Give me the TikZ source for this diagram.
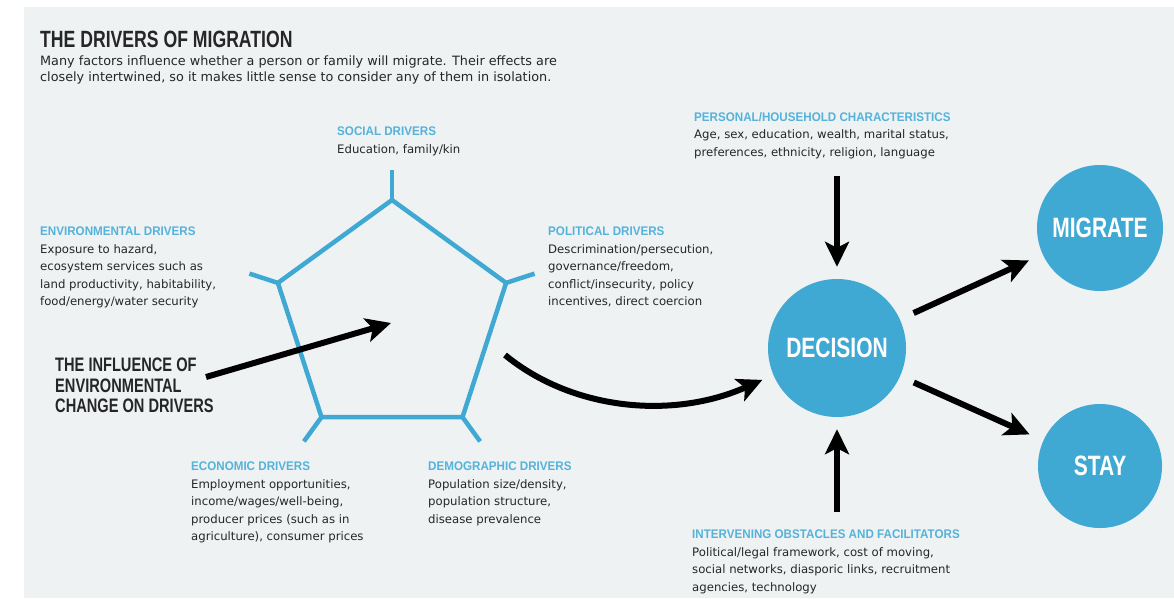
\documentclass[tikz,border=0pt]{standalone}
\usepackage{fontspec}
\setmainfont{DejaVu Sans}
\newfontfamily\condfont{Liberation Sans}[FakeStretch=0.75]
\newfontfamily\headfont{Liberation Sans}[FakeStretch=0.93]
\usetikzlibrary{arrows.meta}
\definecolor{panel}{HTML}{EEF2F3}
\definecolor{mblue}{HTML}{3FA9D3}
\definecolor{hblue}{HTML}{55B2DA}
\definecolor{bodyc}{HTML}{262626}
\newcommand{\hd}[1]{{\headfont\bfseries\fontsize{12.5}{17.5}\selectfont\color{hblue}#1}}
\begin{document}
\begin{tikzpicture}[x=1pt,y=-1pt,
  txt/.style={anchor=north west, inner sep=0pt, align=left, text=bodyc,
    font=\fontsize{11.7}{17.5}\selectfont},
  bigcap/.style={anchor=north west, inner sep=0pt, align=left, text=bodyc,
    font=\condfont\bfseries\fontsize{19.5}{20.3}\selectfont},
  bubble/.style={circle, fill=mblue, draw=none, text=white, inner sep=0pt,
    font=\condfont\bfseries\fontsize{28}{28}\selectfont},
  pent/.style={draw=mblue, line width=4.5pt, line join=miter},
  arr/.style={draw=black, line width=6pt,
    -{Stealth[length=25pt,width=24pt,inset=6pt]}}
]
\useasboundingbox (0,0) rectangle (1174,598);
\fill[white] (0,0) rectangle (1174,598);
\fill[panel] (24,7) rectangle (1174,598);

% title
\node[anchor=north west, inner sep=0pt, text=bodyc,
  font=\condfont\bfseries\fontsize{23.5}{24}\selectfont] (title) at (40,31) {THE DRIVERS OF MIGRATION};
\node[anchor=north west, inner sep=0pt, align=left, text=bodyc,
  font=\fontsize{12.8}{16}\selectfont] (sub) at (40,56)
  {Many factors influence whether a person or family will migrate. Their effects are\\
   closely intertwined, so it makes little sense to consider any of them in isolation.};

% pentagon
\coordinate (pt) at (392,200);
\coordinate (pul) at (277.9,282.9);
\coordinate (pur) at (506.1,282.9);
\coordinate (pbl) at (321.5,417.1);
\coordinate (pbr) at (462.5,417.1);
\coordinate (pc) at (391,323);
\draw[pent] (pt) -- (pur) -- (pbr) -- (pbl) -- (pul) -- cycle;
\draw[pent] (pt) -- (392,170);
\draw[pent] (pul) -- (249.4,273.6);
\draw[pent] (pur) -- (534.6,273.6);
\draw[pent] (pbl) -- (303.9,441.4);
\draw[pent] (pbr) -- (480.1,441.4);

% driver texts
\node[txt] (social) at (337,127) {\hd{SOCIAL DRIVERS}\\Education, family/kin};
\node[txt] (env) at (40,227) {\hd{ENVIRONMENTAL DRIVERS}\\Exposure to hazard,\\ecosystem services such as\\land productivity, habitability,\\food/energy/water security};
\node[txt] (pol) at (548,227) {\hd{POLITICAL DRIVERS}\\Descrimination/persecution,\\governance/freedom,\\conflict/insecurity, policy\\incentives, direct coercion};
\node[txt] (eco) at (191,462) {\hd{ECONOMIC DRIVERS}\\Employment opportunities,\\income/wages/well-being,\\producer prices (such as in\\agriculture), consumer prices};
\node[txt] (dem) at (428,462) {\hd{DEMOGRAPHIC DRIVERS}\\Population size/density,\\population structure,\\disease prevalence};
\node[txt] (pers) at (694,112) {\hd{PERSONAL/HOUSEHOLD CHARACTERISTICS}\\Age, sex, education, wealth, marital status,\\preferences, ethnicity, religion, language};
\node[txt] (inter) at (692,530) {\hd{INTERVENING OBSTACLES AND FACILITATORS}\\Political/legal framework, cost of moving,\\social networks, diasporic links, recruitment\\agencies, technology};

\node[bigcap] (infl) at (55,358) {THE INFLUENCE OF\\ENVIRONMENTAL\\CHANGE ON DRIVERS};

% bubbles
\node[bubble, minimum size=138pt] (dec) at (837,348) {DECISION};
\node[bubble, minimum size=126pt] (mig) at (1100,228) {MIGRATE};
\node[bubble, minimum size=124pt] (stay) at (1100,466) {STAY};

% arrows
\coordinate (is) at (206,377);
\draw[arr] (is) -- (pc);
\coordinate (cs) at (505,355);
\draw[arr, shorten >=12pt] (cs) .. controls (572,410) and (672,420) .. (dec.203);
\coordinate (ps) at (837,176);
\draw[arr, shorten >=12pt] (ps) -- (dec.north);
\coordinate (is2) at (837,512);
\draw[arr, shorten >=12pt] (is2) -- (dec.south);
\draw[arr, shorten <=15pt, shorten >=15pt] (dec) -- (mig);
\draw[arr, shorten <=15pt, shorten >=15pt] (dec) -- (stay);
\end{tikzpicture}
\end{document}
